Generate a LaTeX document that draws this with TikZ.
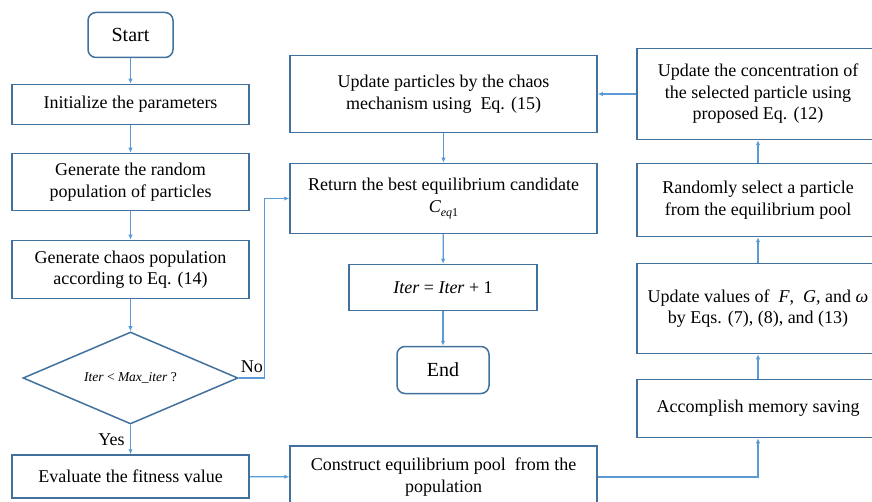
\documentclass[tikz,border=0pt]{standalone}
\usepackage{fontspec}
\setmainfont{Liberation Serif}
\usetikzlibrary{arrows.meta,shapes.geometric}
\definecolor{boxblue}{HTML}{41719C}
\definecolor{lineblue}{HTML}{5B9BD5}
\tikzset{
	stepbox/.style={draw=boxblue, line width=1.5pt, rectangle, align=center, inner sep=2pt, font=\fontsize{18}{21.5}\selectfont},
	termbox/.style={stepbox, rounded corners=8pt, font=\fontsize{20}{24}\selectfont},
	testbox/.style={draw=boxblue, line width=1.5pt, diamond, inner sep=0pt, aspect=2.34, font=\fontsize{13.5}{16}\selectfont\itshape},
	link/.style={draw=lineblue, line width=1.2pt, -{Latex[length=5pt,width=4.5pt]}}
}
\newcommand{\Ceq}{{\itshape C}\raisebox{-4pt}{\fontsize{12}{12}\selectfont\itshape eq\upshape 1}}
\begin{document}
\begin{tikzpicture}[x=1pt,y=-1pt]
			%%%%% START %%%%%
			\useasboundingbox (0,0) rectangle (872,502);
			\clip (0,0) rectangle (872,502);
			
			% left column
			\node[termbox, minimum width=85, minimum height=45] (start) at (130.5,35) {Start};
			\node[stepbox, minimum width=237, minimum height=40] (init) at (130.5,104.5) {Initialize the parameters};
			\node[stepbox, minimum width=237, minimum height=57] (genpop) at (130.5,182) {Generate the random\\population of particles};
			\node[stepbox, minimum width=237, minimum height=58] (genchaos) at (130.5,269.5) {Generate chaos population\\according to Eq. (14)};
			\node[testbox, minimum width=215, minimum height=92] (check) at (130.5,378) {Iter {\upshape<} Max\_iter {\upshape ?}};
			\node[stepbox, minimum width=237, minimum height=43] (eval) at (130.5,476.5) {Evaluate the fitness value};
			
			% middle column
			\node[stepbox, minimum width=307, minimum height=77] (chaos) at (443.5,94) {Update particles by the chaos\\mechanism using~ Eq. (15)};
			\node[stepbox, minimum width=307, minimum height=70] (best) at (443.5,198.5) {Return the best equilibrium candidate\\\Ceq};
			\node[stepbox, minimum width=188, minimum height=46] (iter) at (443,287.5) {\textit{Iter} = \textit{Iter} + 1};
			\node[termbox, minimum width=92, minimum height=47] (end) at (443,370) {End};
			\node[stepbox, minimum width=307, minimum height=62] (pool) at (443.5,477) {Construct equilibrium pool~ from the\\population};
			
			% right column
			\node[stepbox, minimum width=242, minimum height=91] (conc) at (758,94) {Update the concentration of\\the selected particle using\\proposed Eq. (12)};
			\node[stepbox, minimum width=242, minimum height=73] (select) at (758,200) {Randomly select a particle\\from the equilibrium pool};
			\node[stepbox, minimum width=242, minimum height=90] (values) at (758,308.5) {Update values of~ \textit{F},~ \textit{G}, and \textit{ω}\\by Eqs. (7), (8), and (13)};
			\node[stepbox, minimum width=242, minimum height=58] (memory) at (758,408.5) {Accomplish memory saving};
			
			% connectors
			\draw[link] (start) -- (init);
			\draw[link] (init) -- (genpop);
			\draw[link] (genpop) -- (genchaos);
			\draw[link] (genchaos) -- (check);
			\draw[link] (check) -- node[left, font=\fontsize{18}{21}\selectfont, xshift=-2pt] {Yes} (eval);
			\draw[link] (check.east) -- node[above, font=\fontsize{18}{21}\selectfont, pos=0.5, yshift=1pt] {No} ++(26,0) |- (best.west);
			\draw[link] (eval) -- (pool);
			\draw[link] (pool.east) -| (memory.south);
			\draw[link] (memory) -- (values);
			\draw[link] (values) -- (select);
			\draw[link] (select) -- (conc);
			\draw[link] (conc) -- (chaos);
			\draw[link] (chaos) -- (best);
			\draw[link] (best) -- (iter);
			\draw[link] (iter) -- (end);
			
			%%%%% END %%%%%
\end{tikzpicture}
\end{document}
